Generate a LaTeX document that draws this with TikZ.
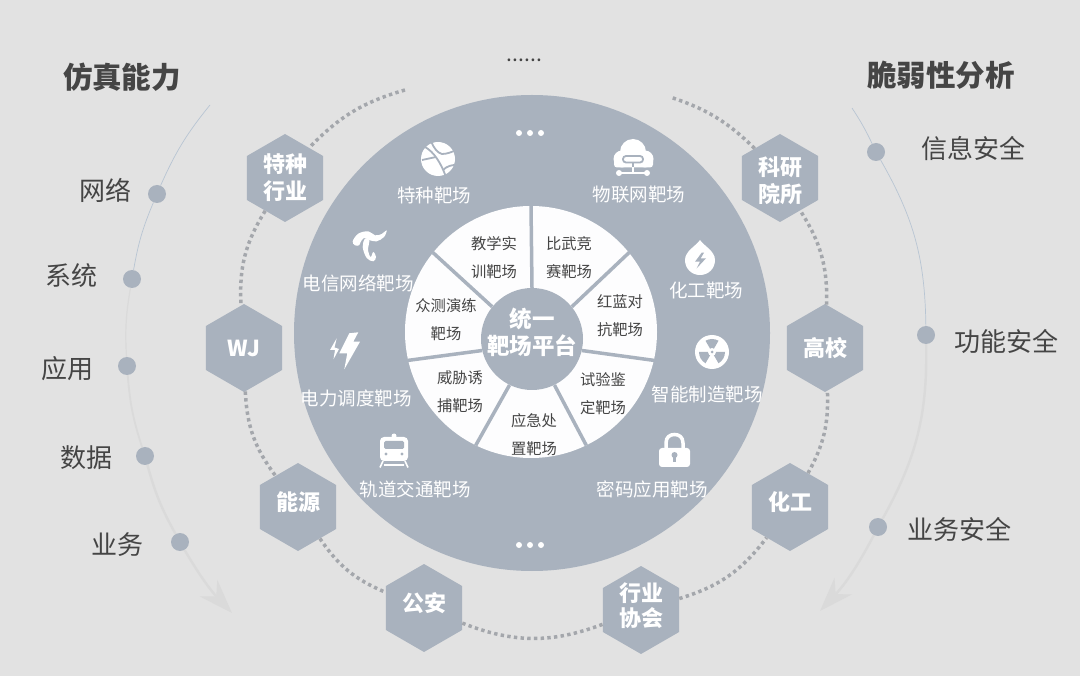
\documentclass[tikz,border=0pt]{standalone}
\usepackage{fontspec}
\setmainfont{Noto Sans CJK SC}
\usetikzlibrary{shapes.geometric, arrows.meta, positioning}
\definecolor{pagegray}{HTML}{E2E2E2}
\definecolor{slate}{HTML}{A9B2BE}
\definecolor{inkgray}{HTML}{454545}
\definecolor{dotgray}{HTML}{A4A7AC}
\definecolor{fadegray}{HTML}{DADADA}
\definecolor{thinblue}{HTML}{B8C5D3}
\newcommand{\hexup}[1]{\raisebox{-3pt}[0pt][0pt]{#1}}
\newcommand{\twoline}[4]{\makebox[0pt]{\raisebox{#1}[0pt][0pt]{#2}}\makebox[0pt]{\raisebox{#3}[0pt][0pt]{#4}}}
\tikzset{
    hexcell/.style = {regular polygon, regular polygon sides=6, shape border rotate=30, minimum size=88pt, inner sep=0pt, fill=slate, text=white, align=center, font=\fontsize{22}{28}\selectfont\bfseries},
    disktext/.style = {text=white, inner sep=0pt, font=\fontsize{18.5}{22}\selectfont},
    ringtext/.style = {text=inkgray, inner sep=0pt, align=center, font=\fontsize{15.3}{28}\selectfont},
    sidetext/.style = {text=inkgray, inner sep=0pt, font=\fontsize{26}{30}\selectfont},
    headtext/.style = {text=inkgray, inner sep=0pt, font=\fontsize{29.5}{34}\selectfont\bfseries},
    sidedot/.style = {circle, fill=slate, minimum size=18pt, inner sep=0pt},
    whitedot/.style = {circle, fill=white, minimum size=6pt, inner sep=0pt},
    divider/.style = {line width=3.5pt, slate},
    dotted ring/.style = {line width=3.5pt, dotgray, dash pattern=on 3.4pt off 3.3pt},
    thinarc/.style = {line width=0.7pt, thinblue},
    widearc/.style = {line width=2.4pt, fadegray},
    arrow/.style = {widearc, -{Stealth[length=34pt, width=24pt, inset=11pt]}},
    iconcut/.style = {line width=1.8pt, slate}
}

\begin{document}
\begin{tikzpicture}[x=1pt, y=-1pt]

\useasboundingbox (0,0) rectangle (1080,676);
\fill [pagegray] (0,0) rectangle (1080,676);

% Hexagons on the dotted ring
\node (hexSpecial) [hexcell] at (285,178) {\twoline{5pt}{特种}{-22pt}{行业}};
\node (hexWJ) [hexcell] at (244,348) {WJ};
\node (hexEnergy) [hexcell] at (298,507) {\hexup{能源}};
\node (hexPolice) [hexcell] at (424,608) {\hexup{公安}};
\node (hexAssoc) [hexcell] at (641,610) {\twoline{9pt}{行业}{-16pt}{协会}};
\node (hexChem) [hexcell] at (790,507) {\hexup{化工}};
\node (hexUniv) [hexcell] at (825,348) {高校};
\node (hexLab) [hexcell] at (780,178) {\twoline{2pt}{科研}{-25pt}{院所}};
\coordinate (ringLeft) at (405,90);
\coordinate (ringRight) at (670,97);

% Dotted ring
\draw [dotted ring] (ringLeft) to[bend right=15] (hexSpecial);
\draw [dotted ring] (hexSpecial) to[bend right=17.5] (hexWJ);
\draw [dotted ring] (hexWJ) to[bend right=17] (hexEnergy);
\draw [dotted ring] (hexEnergy) to[bend right=16.5] (hexPolice);
\draw [dotted ring] (hexPolice) to[bend right=21] (hexAssoc);
\draw [dotted ring] (hexAssoc) to[bend right=18] (hexChem);
\draw [dotted ring] (hexChem) to[bend right=15.6] (hexUniv);
\draw [dotted ring] (hexUniv) to[bend right=17] (hexLab);
\draw [dotted ring] (hexLab) to[bend right=13] (ringRight);

% Main disk and ring
\node (disk) [circle, fill=slate, minimum size=476pt, inner sep=0pt] at (532,333) {};
\node (ring) [circle, fill=white!98!slate, minimum size=252pt, inner sep=0pt] at (531,332) {};
\node (hub) [circle, fill=slate, minimum size=102pt, inner sep=0pt, text=white, font=\fontsize{22.5}{28}\selectfont\bfseries] at (532,339) {\twoline{11pt}{统一}{-16pt}{靶场平台}};

% Ring sectors
\draw [divider] (hub.90) -- (ring.90);
\draw [divider] (hub.39) -- (ring.39);
\draw [divider] (hub.-13) -- (ring.-13);
\draw [divider] (hub.-64.5) -- (ring.-64.5);
\draw [divider] (hub.-116) -- (ring.-116);
\draw [divider] (hub.-167) -- (ring.-167);
\draw [divider] (hub.141.5) -- (ring.141.5);

\node (secTeach) [ringtext] at (494,258) {教学实\\训靶场};
\node (secMatch) [ringtext] at (569,258) {比武竞\\赛靶场};
\node (secRed) [ringtext] at (620,316) {红蓝对\\抗靶场};
\node (secTest) [ringtext] at (603,394) {试验鉴\\定靶场};
\node (secEmerg) [ringtext] at (534,435) {应急处\\置靶场};
\node (secTrap) [ringtext] at (460,392) {威胁诱\\捕靶场};
\node (secCrowd) [ringtext] at (446,320) {众测演练\\靶场};

% Range labels on the disk
\node (rangeSpecial) [disktext] at (434,195) {特种靶场};
\node (rangeIot) [disktext] at (639,195) {物联网靶场};
\node (rangeTelecom) [disktext] at (358,283) {电信网络靶场};
\node (rangeChem) [disktext] at (706,290) {化工靶场};
\node (rangePower) [disktext] at (356,398) {电力调度靶场};
\node (rangeMake) [disktext] at (707,394) {智能制造靶场};
\node (rangeRail) [disktext] at (415,489) {轨道交通靶场};
\node (rangeCrypto) [disktext] at (652,489) {密码应用靶场};

% Icons - globe
\fill [white] (438,159) circle (17pt);
\draw [iconcut] (425,147) .. controls (434,152) and (441,163) .. (446,177);
\draw [iconcut] (431,141) .. controls (434,149) and (438,153) .. (442,154) .. controls (447,154) and (452,152) .. (456,150);
\draw [iconcut] (443,170) .. controls (447,166) and (452,165) .. (455,165);
\draw [iconcut] (422,160) -- (436,157);

% Icons - cloud
\fill [white] (633,152) circle (13pt) (622,159) circle (8.5pt) (645,159) circle (8.5pt);
\fill [white, rounded corners=3pt] (614,158) rectangle (653,167.5);
\draw [iconcut, rounded corners=3pt] (623,156) rectangle (643,162.5);
\draw [iconcut] (633,162.5) -- (633,167.5);
\draw [white, line width=2pt] (633,167) -- (633,173) (619,173) -- (647,173);
\fill [white] (619,173) circle (3pt) (647,173) circle (3pt);

% Icons - telecom swirl
\fill [white] plot[smooth cycle, tension=0.6] coordinates {(352.7,241.3) (358.3,233.7) (368.3,231.3) (375,235.3) (381.7,234) (386.7,230.3) (384,237) (376.7,241.3) (370,240.3) (364,238) (360.7,242) (359,245.3) (355,245.3)};
\fill [white] plot[smooth cycle, tension=0.6] coordinates {(365,238.7) (362.7,247) (366.7,258) (373.3,261.3) (376,257) (373.3,252) (370.7,257) (368,250.3) (369.3,240)};

% Icons - drop
\fill [white] (700,240) .. controls (696,246) and (685,251) .. (685,260) .. controls (685,268.5) and (691.5,275) .. (700,275) .. controls (708.5,275) and (715,268.5) .. (715,260) .. controls (715,251) and (704,246) .. (700,240) -- cycle;
\fill [slate] (701.7,252.7) -- (695,261.7) -- (700,261.7) -- (696.7,268.3) -- (706,258.3) -- (700.7,258.3) -- (704,252.7) -- cycle;

% Icons - lightning
\fill [white] (349.3,333.3) -- (358.3,332.3) -- (353.3,341.7) -- (360,341.7) -- (344.3,369.3) -- (347.3,353.3) -- (339.3,353.3) -- cycle;
\fill [white] (336.7,338.3) -- (330,350) -- (335,350) -- (333.5,359.3) -- (339,349) -- (334.5,347.5) -- cycle;

% Icons - radiation
\coordinate (radCenter) at (712,352);
\fill [white] (radCenter) circle (17pt);
\fill [slate] (radCenter) -- ++(60:13pt) arc[start angle=60, end angle=120, radius=13pt] -- cycle;
\fill [slate] (radCenter) -- ++(180:13pt) arc[start angle=180, end angle=240, radius=13pt] -- cycle;
\fill [slate] (radCenter) -- ++(300:13pt) arc[start angle=300, end angle=360, radius=13pt] -- cycle;
\fill [white] (radCenter) circle (4pt);
\fill [slate] (radCenter) circle (1.5pt);

% Icons - train
\fill [white] (394,436) circle (2.5pt);
\fill [white, rounded corners=4pt] (380,437) rectangle (408,461);
\fill [slate, rounded corners=1.5pt] (384,441) rectangle (404,449);
\fill [slate] (386,454) circle (1.7pt) (402,454) circle (1.7pt);
\draw [white, line width=1.6pt] (383,461) -- (380,467.5) (405,461) -- (408,467.5) (384,465) -- (404,465);

% Icons - lock
\draw [white, line width=3.5pt] (666,449) -- (666,443) .. controls (666,437) and (670,434.5) .. (674.5,434.5) .. controls (679,434.5) and (683,437) .. (683,443) -- (683,449);
\fill [white, rounded corners=3pt] (659,448) rectangle (690,467);
\fill [slate] (674.5,455) circle (3pt);
\draw [slate, line width=2.2pt] (674.5,455) -- (674.5,462);

% More marks
\node (topA) [whitedot] at (519,133) {};
\node (topB) [whitedot] at (530,133) {};
\node (topC) [whitedot] at (541,133) {};
\node (lowA) [whitedot] at (519,545) {};
\node (lowB) [whitedot] at (530,545) {};
\node (lowC) [whitedot] at (541,545) {};
\node (moreText) [text=inkgray, inner sep=0pt, font=\fontsize{21}{24}\selectfont] at (524.5,60) {......};

% Left arc
\node (headLeft) [headtext] at (122,77) {仿真能力};
\coordinate (leftTop) at (210,105);
\coordinate (leftEnd) at (232,613);
\node (dotNet) [sidedot] at (157,194) {};
\node (dotSys) [sidedot] at (132,279) {};
\node (dotApp) [sidedot] at (127,366) {};
\node (dotData) [sidedot] at (145,456) {};
\node (dotBiz) [sidedot] at (180,542) {};
\node (textNet) [sidetext, left=16pt of dotNet, yshift=4pt] {网络};
\node (textSys) [sidetext, left=25pt of dotSys, yshift=3pt] {系统};
\node (textApp) [sidetext, left=24pt of dotApp, yshift=-3pt] {应用};
\node (textData) [sidetext, left=23pt of dotData, yshift=-2pt] {数据};
\node (textBiz) [sidetext, left=27pt of dotBiz, yshift=-3pt] {业务};

\draw [thinarc] (leftTop) to[bend right=7.6] (dotNet);
\draw [thinarc] (dotNet) to[bend right=6.5] (dotSys);
\draw [line width=1.2pt, fadegray] (dotSys) to[bend right=6.5] (dotApp);
\draw [line width=1.8pt, fadegray] (dotApp) to[bend right=6.8] (dotData);
\draw [widearc] (dotData) to[bend right=6.9] (dotBiz);
\draw [arrow] (dotBiz) to[bend right=6.4] (leftEnd);

% Right arc
\node (headRight) [headtext] at (941,75) {脆弱性分析};
\coordinate (rightTop) at (852,108);
\coordinate (rightEnd) at (820,611);
\node (dotInfo) [sidedot] at (876,152) {};
\node (dotFunc) [sidedot] at (926,335) {};
\node (dotSafe) [sidedot] at (878,527) {};
\node (textInfo) [sidetext, right=36pt of dotInfo, yshift=3pt] {信息安全};
\node (textFunc) [sidetext, right=19pt of dotFunc, yshift=-6pt] {功能安全};
\node (textSafe) [sidetext, right=20pt of dotSafe, yshift=-2pt] {业务安全};

\draw [thinarc] (rightTop) to[bend left=3.75] (dotInfo);
\draw [thinarc] (dotInfo) to[bend left=14.5] (dotFunc);
\draw [widearc] (dotFunc) to[bend left=15.1] (dotSafe);
\draw [arrow] (dotSafe) to[bend left=7.7] (rightEnd);

\end{tikzpicture}
\end{document}
